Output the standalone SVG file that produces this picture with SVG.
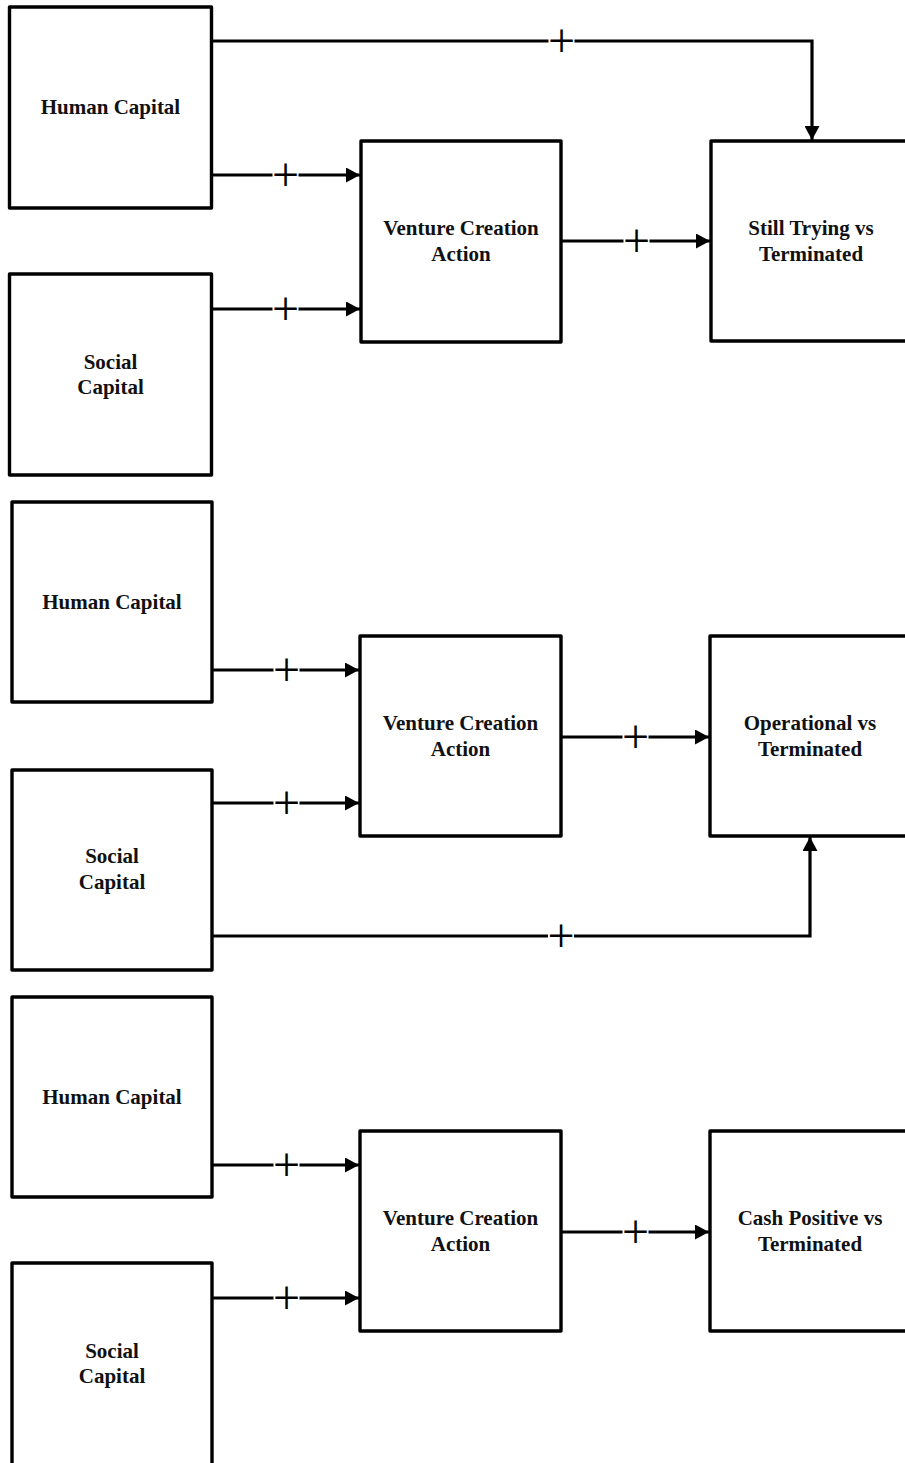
<svg xmlns="http://www.w3.org/2000/svg" width="905" height="1463" viewBox="0 0 905 1463">
<defs>
<style>
.box{fill:#fff;stroke:#000;stroke-width:3.4;stroke-linejoin:round}
.lbl{font-family:"Liberation Serif","Times New Roman",serif;font-weight:bold;font-size:21px;fill:#111;text-anchor:middle}
.edge{fill:none;stroke:#000;stroke-width:3.2}
.pgap{fill:#fff;stroke:none}
.plus{font-family:"Liberation Serif","Times New Roman",serif;font-size:48px;fill:#000;text-anchor:middle}
</style>
<marker id="arr" viewBox="0 0 14 15" refX="14" refY="7.5" markerWidth="14" markerHeight="15" markerUnits="userSpaceOnUse" orient="auto">
<path d="M0,0 L14,7.5 L0,15 Z" fill="#000"/>
</marker>
</defs>
<rect width="905" height="1463" fill="#fff"/>

<g id="connectors">
<path class="edge" d="M211,41 H812 V140" marker-end="url(#arr)"/>
<path class="edge" d="M211,175 H360" marker-end="url(#arr)"/>
<path class="edge" d="M211,309 H360" marker-end="url(#arr)"/>
<path class="edge" d="M561,241 H710" marker-end="url(#arr)"/>

<path class="edge" d="M212,670 H359" marker-end="url(#arr)"/>
<path class="edge" d="M212,803 H359" marker-end="url(#arr)"/>
<path class="edge" d="M561,737 H709" marker-end="url(#arr)"/>
<path class="edge" d="M212,936 H810 V837" marker-end="url(#arr)"/>

<path class="edge" d="M212,1165 H359" marker-end="url(#arr)"/>
<path class="edge" d="M212,1298 H359" marker-end="url(#arr)"/>
<path class="edge" d="M561,1232 H709" marker-end="url(#arr)"/>

<rect class="pgap" x="548.5" y="37" width="26" height="8"/><text class="plus" x="561.5" y="57">+</text>
<rect class="pgap" x="272.5" y="171" width="26" height="8"/><text class="plus" x="285.5" y="191">+</text>
<rect class="pgap" x="272.5" y="305" width="26" height="8"/><text class="plus" x="285.5" y="325">+</text>
<rect class="pgap" x="623.5" y="237" width="26" height="8"/><text class="plus" x="636.5" y="257">+</text>

<rect class="pgap" x="273.5" y="666" width="26" height="8"/><text class="plus" x="286.5" y="686">+</text>
<rect class="pgap" x="273.5" y="799" width="26" height="8"/><text class="plus" x="286.5" y="819">+</text>
<rect class="pgap" x="622.5" y="733" width="26" height="8"/><text class="plus" x="635.5" y="753">+</text>
<rect class="pgap" x="548" y="932" width="26" height="8"/><text class="plus" x="561" y="952">+</text>

<rect class="pgap" x="273.5" y="1161" width="26" height="8"/><text class="plus" x="286.5" y="1181">+</text>
<rect class="pgap" x="273.5" y="1294" width="26" height="8"/><text class="plus" x="286.5" y="1314">+</text>
<rect class="pgap" x="622.5" y="1228" width="26" height="8"/><text class="plus" x="635.5" y="1248">+</text>
</g>

<g id="hc1"><rect class="box" x="9.5" y="7" width="202" height="201"/><text class="lbl" x="110.5" y="114">Human Capital</text></g>
<g id="sc1"><rect class="box" x="9.5" y="274" width="202" height="201"/><text class="lbl" x="110.5" y="369">Social</text><text class="lbl" x="110.5" y="394">Capital</text></g>
<g id="vca1"><rect class="box" x="361" y="141" width="200" height="201"/><text class="lbl" x="461" y="235">Venture Creation</text><text class="lbl" x="461" y="260.5">Action</text></g>
<g id="st1"><rect class="box" x="711" y="141" width="200" height="200"/><text class="lbl" x="811" y="235">Still Trying vs</text><text class="lbl" x="811" y="260.5">Terminated</text></g>

<g id="hc2"><rect class="box" x="12" y="502" width="200" height="200"/><text class="lbl" x="112" y="608.5">Human Capital</text></g>
<g id="sc2"><rect class="box" x="12" y="770" width="200" height="200"/><text class="lbl" x="112" y="863">Social</text><text class="lbl" x="112" y="888.5">Capital</text></g>
<g id="vca2"><rect class="box" x="360" y="636" width="201" height="200"/><text class="lbl" x="460.5" y="730">Venture Creation</text><text class="lbl" x="460.5" y="755.5">Action</text></g>
<g id="op2"><rect class="box" x="710" y="636" width="201" height="200"/><text class="lbl" x="810" y="730">Operational vs</text><text class="lbl" x="810" y="755.5">Terminated</text></g>

<g id="hc3"><rect class="box" x="12" y="997" width="200" height="200"/><text class="lbl" x="112" y="1103.5">Human Capital</text></g>
<g id="sc3"><rect class="box" x="12" y="1263" width="200" height="210"/><text class="lbl" x="112" y="1358">Social</text><text class="lbl" x="112" y="1383">Capital</text></g>
<g id="vca3"><rect class="box" x="360" y="1131" width="201" height="200"/><text class="lbl" x="460.5" y="1225">Venture Creation</text><text class="lbl" x="460.5" y="1250.5">Action</text></g>
<g id="cp3"><rect class="box" x="710" y="1131" width="201" height="200"/><text class="lbl" x="810" y="1225">Cash Positive vs</text><text class="lbl" x="810" y="1250.5">Terminated</text></g>
</svg>
